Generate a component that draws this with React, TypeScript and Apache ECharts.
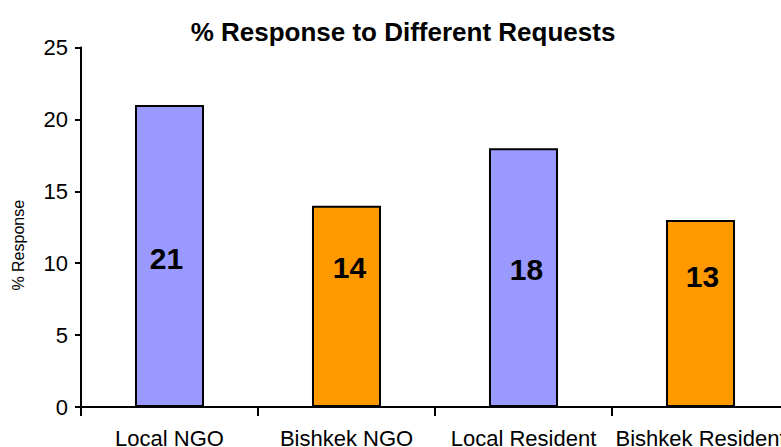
import React, { useEffect, useRef } from "react";
import * as echarts from "echarts";

// Response rates by request source
const categories = ["Local NGO", "Bishkek NGO", "Local Resident", "Bishkek Resident"];
const responses = [21, 14, 18, 13];
const yTicks = { min: 0, max: 25, interval: 5 };

const barColors = ["#9999FF", "#FF9900", "#9999FF", "#FF9900"];
// nudges applied to the in-bar value labels, [dx, dy] from bar centre
const labelNudges: [number, number][] = [
  [-3, 2],
  [3, -39],
  [3, -8],
  [2, -37],
];

const FONT = "Arial, 'Liberation Sans', Helvetica, sans-serif";

export default function App() {
  const ref = useRef<HTMLDivElement>(null);

  useEffect(() => {
    if (!ref.current) return;
    const chart = echarts.init(ref.current, undefined, { renderer: "svg" });
    chart.setOption({
      animation: false,
      backgroundColor: "#ffffff",
      title: {
        text: "% Response to Different Requests",
        left: 398,
        textAlign: "center",
        top: 14,
        textStyle: { fontFamily: FONT, fontSize: 26, fontWeight: "bold", color: "#000" },
      },
      // the plot runs slightly past the visible right edge; labels may touch the frame
      grid: {
        left: 81,
        top: 47.5,
        width: 708,
        height: 359.5,
        containLabel: false,
        outerBoundsMode: "none",
      },
      xAxis: {
        type: "category",
        data: categories,
        boundaryGap: true,
        axisLine: { lineStyle: { color: "#000", width: 2 } },
        axisTick: { show: true, length: 9, lineStyle: { color: "#000", width: 2 } },
        axisLabel: { fontFamily: FONT, fontSize: 22, color: "#000", margin: 20, interval: 0 },
        splitLine: { show: false },
      },
      yAxis: {
        type: "value",
        min: yTicks.min,
        max: yTicks.max,
        interval: yTicks.interval,
        name: "% Response",
        nameLocation: "middle",
        nameGap: 55,
        nameRotate: 90,
        nameTextStyle: { fontFamily: FONT, fontSize: 16, color: "#000", padding: [0, 36, 0, 0] },
        axisLine: { show: true, lineStyle: { color: "#000", width: 2 } },
        axisTick: { show: true, inside: false, length: 6, lineStyle: { color: "#000", width: 2 } },
        axisLabel: { fontFamily: FONT, fontSize: 22, color: "#000", margin: 13 },
        splitLine: { show: false },
      },
      series: [
        {
          type: "bar",
          barWidth: "39%",
          data: responses.map((v, i) => ({
            value: v,
            itemStyle: { color: barColors[i] },
            label: { offset: labelNudges[i] },
          })),
          itemStyle: { borderColor: "#000", borderWidth: 2 },
          label: {
            show: true,
            position: "inside",
            fontFamily: FONT,
            fontSize: 30,
            fontWeight: "bold",
            color: "#000",
          },
        },
      ],
    });
    return () => chart.dispose();
  }, []);

  return (
    <div
      style={{
        position: "fixed",
        left: 0,
        top: 0,
        width: 781,
        height: 447,
        overflow: "hidden",
        background: "#fff",
      }}
    >
      <div ref={ref} style={{ width: 800, height: 447 }} />
    </div>
  );
}
